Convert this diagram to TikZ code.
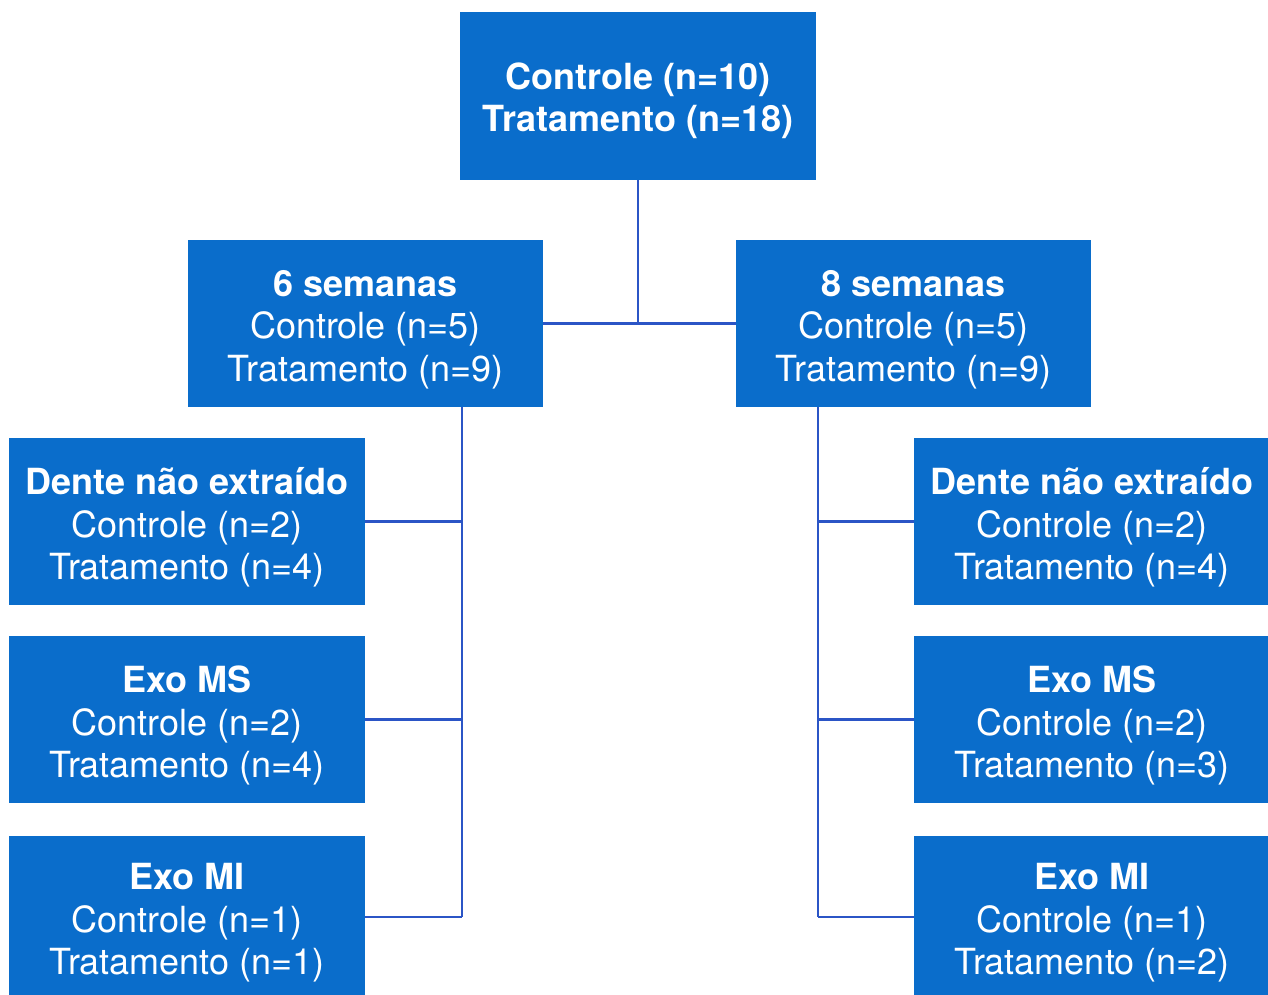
\documentclass[tikz,border=0pt]{standalone}
\usepackage{fontspec}
\setmainfont{TeX Gyre Heros}
\definecolor{boxblue}{HTML}{0A6DCB}
\definecolor{lineblue}{HTML}{2B55C6}
\begin{document}
\begin{tikzpicture}[x=1pt,y=-1pt,
  box/.style={fill=boxblue,inner sep=0pt,
    minimum width=356pt,minimum height=167pt},
  txt/.style={text=white,align=center,inner sep=0pt,
    font=\fontsize{36}{42.5}\selectfont},
  conn/.style={draw=lineblue,line width=2.6pt}]
\useasboundingbox (0,0) rectangle (1268,995);
\clip (0,0) rectangle (1268,995);
\fill[white] (0,0) rectangle (1268,995);
\node[box,minimum height=168pt] (top) at (638,96) {};
\node[box,minimum width=355pt] (s6) at (365.5,323.5) {};
\node[box,minimum width=355pt] (s8) at (913.5,323.5) {};
\node[box] (l1) at (187,521.5) {};
\node[box] (l2) at (187,719.5) {};
\node[box] (l3) at (187,919) {};
\node[box] (r1) at (1092,521.5) {};
\node[box] (r2) at (1092,719.5) {};
\node[box] (r3) at (1092,919) {};
\node[txt] (topt) at ([yshift=-5pt]top.center) {\textbf{Controle (n=10)}\\\textbf{Tratamento (n=18)}};
\node[txt] (s6t) at ([yshift=-6pt]s6.center) {\textbf{6 semanas}\\Controle (n=5)\\Tratamento (n=9)};
\node[txt] (s8t) at ([yshift=-6pt]s8.center) {\textbf{8 semanas}\\Controle (n=5)\\Tratamento (n=9)};
\node[txt] (l1t) at ([yshift=-6pt]l1.center) {\textbf{Dente não extraído}\\Controle (n=2)\\Tratamento (n=4)};
\node[txt] (l2t) at ([yshift=-6pt]l2.center) {\textbf{Exo MS}\\Controle (n=2)\\Tratamento (n=4)};
\node[txt] (l3t) at ([yshift=-4pt]l3.center) {\textbf{Exo MI}\\Controle (n=1)\\Tratamento (n=1)};
\node[txt] (r1t) at ([yshift=-6pt]r1.center) {\textbf{Dente não extraído}\\Controle (n=2)\\Tratamento (n=4)};
\node[txt] (r2t) at ([yshift=-6pt]r2.center) {\textbf{Exo MS}\\Controle (n=2)\\Tratamento (n=3)};
\node[txt] (r3t) at ([yshift=-4pt]r3.center) {\textbf{Exo MI}\\Controle (n=1)\\Tratamento (n=2)};
\coordinate (lt) at (462,917);
\coordinate (rt) at (818,917);
\draw[conn] (top.south) -- (top.south |- s6.east);
\draw[conn] (s6.east) -- (s8.west);
\draw[conn] (s6.south -| lt) -- (lt);
\draw[conn] (s8.south -| rt) -- (rt);
\draw[conn] (l1.east) -- (l1.east -| lt);
\draw[conn] (l2.east) -- (l2.east -| lt);
\draw[conn] (l3.east |- lt) -- (lt);
\draw[conn] (r1.west) -- (r1.west -| rt);
\draw[conn] (r2.west) -- (r2.west -| rt);
\draw[conn] (r3.west |- rt) -- (rt);
\end{tikzpicture}
\end{document}
